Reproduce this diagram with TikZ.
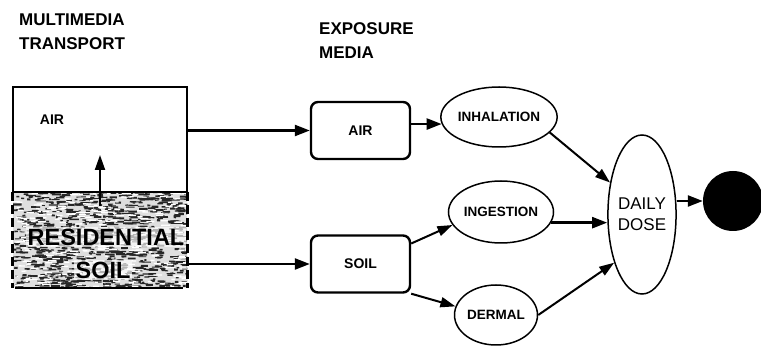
\documentclass[tikz,border=0pt]{standalone}
\usepackage{fontspec}
\setmainfont{Liberation Sans}
\usetikzlibrary{arrows.meta,shapes.geometric}
\tikzset{
  heading/.style={font=\fontsize{17}{20}\selectfont\bfseries, inner sep=0pt, anchor=west},
  medbox/.style={draw, line width=2.4pt, rounded corners=7pt, minimum width=99pt, minimum height=57pt, inner sep=0pt, font=\fontsize{14}{16}\selectfont\bfseries},
  route/.style={draw, ellipse, line width=1.5pt, inner sep=0pt, font=\fontsize{13.5}{15}\selectfont\bfseries},
  soillabel/.style={inner sep=1.5pt, fill=white, fill opacity=0.65, text opacity=1, font=\fontsize{23.5}{26}\selectfont\bfseries},
  bigarrow/.style={line width=2.4pt, -{Triangle[length=15pt,width=11pt]}},
  arrowb/.style={line width=2pt, -{Triangle[length=15pt,width=10pt]}},
}
\begin{document}
\begin{tikzpicture}[x=1pt,y=-1pt]
\useasboundingbox (0,0) rectangle (761,347);
% headings
\node[heading] (mmA) at (19,19.5) {MULTIMEDIA};
\node[heading] (mmB) at (19,43.5) {TRANSPORT};
\node[heading] (exA) at (319,29) {EXPOSURE};
\node[heading] (exB) at (319,53) {MEDIA};
% soil region with texture
\node[inner sep=0pt, minimum width=174pt, minimum height=96pt] (soilarea) at (100,240) {};
\begin{scope}
  \clip (soilarea.north west) rectangle (soilarea.south east);
  \fill[gray!25] (soilarea.north west) rectangle (soilarea.south east);
  \pgfmathsetseed{7}
  \foreach \i in {1,...,950}{
    \pgfmathsetmacro{\xx}{13+176*rnd}
    \pgfmathsetmacro{\yy}{192+96*rnd}
    \pgfmathsetmacro{\ll}{2+8*rnd}
    \pgfmathsetmacro{\ww}{0.8+1.4*rnd}
    \draw[line width=\ww pt, black!85] (\xx,\yy) -- ++(\ll,0.6*rnd-0.3);
  }
  \pgfmathsetseed{11}
  \foreach \i in {1,...,300}{
    \pgfmathsetmacro{\xx}{13+176*rnd}
    \pgfmathsetmacro{\yy}{192+96*rnd}
    \pgfmathsetmacro{\ll}{3+6*rnd}
    \draw[line width=1.3pt, white] (\xx,\yy) -- ++(\ll,0.6*rnd-0.3);
  }
\end{scope}
\draw[line width=3pt, dash pattern=on 9pt off 4pt] (soilarea.north west) -- (soilarea.south west);
\draw[line width=3pt, dash pattern=on 9pt off 4pt] (soilarea.north east) -- (soilarea.south east);
\draw[line width=2.4pt] ([xshift=2pt]soilarea.south west) -- ([xshift=-4pt]soilarea.south east);
\node[soillabel] (resid) at (106,237) {RESIDENTIAL};
\node[soillabel] (soiltxt) at (103,270) {SOIL};
% top air box
\node[draw, line width=2.5pt, inner sep=0pt, minimum width=174pt, minimum height=105pt] (topbox) at (100,139.5) {};
\node[inner sep=0pt, font=\fontsize{14}{16}\selectfont\bfseries] (airtxt) at (52,120) {AIR};
\coordinate (upstart) at (100,206);
\coordinate (upend) at (100,155);
\draw[line width=2pt, -{Triangle[length=15pt,width=10pt]}] (upstart) -- (upend);
% exposure media
\node[medbox] (air) at (360.5,130.5) {AIR};
\node[medbox] (soil) at (360.5,264) {SOIL};
% routes
\node[route, minimum width=95pt, minimum height=60pt] (inhal) at (499,117) {INHALATION};
\node[route, minimum width=92pt, minimum height=62pt] (ingest) at (501,212) {INGESTION};
\node[route, minimum width=83pt, minimum height=60pt] (dermal) at (496,315) {DERMAL};
\node[draw, ellipse, line width=1.5pt, inner sep=0pt, minimum width=62pt, minimum height=159pt, align=center, font=\fontsize{17}{21}\selectfont] (dose) at (642,214.5) {DAILY\\DOSE};
\node[circle, fill=black, inner sep=0pt, minimum size=60pt] (result) at (733,201) {};
% connectors
\draw[bigarrow] (topbox.east |- air.west) -- (air.west);
\draw[bigarrow] (soilarea.east |- soil.west) -- (soil.west);
\draw[bigarrow] (inhal.187 -| air.east) -- (inhal.187);
\draw[arrowb] (soil.22) -- (ingest.195);
\draw[arrowb] (soil.south east) -- (dermal.168);
\draw[arrowb] (inhal.-17) -- (dose.135);
\draw[bigarrow] (ingest.-12) -- (ingest.-12 -| dose.west);
\draw[arrowb] (dermal.east) -- (dose.240);
\draw[bigarrow] (dose.east |- result.west) -- (result.west);
\end{tikzpicture}
\end{document}
